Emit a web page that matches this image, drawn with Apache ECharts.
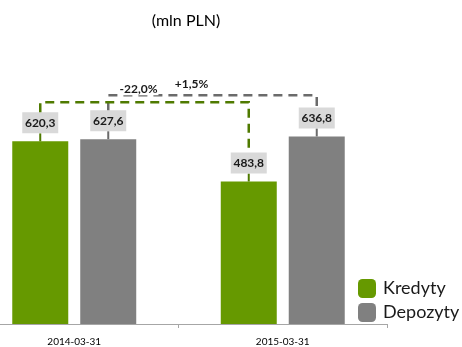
<!DOCTYPE html>
<html><head><meta charset="utf-8">
<script src="https://cdn.jsdelivr.net/npm/echarts@6/dist/echarts.min.js"></script>
<style>html,body{margin:0;padding:0;background:#fff}#c{width:462px;height:347px}</style>
</head><body><div id="c"></div>
<script>
const categories = ['2014-03-31', '2015-03-31'];
const seriesNames = ['Kredyty', 'Depozyty'];
const kredyty = [620.3, 483.8];
const depozyty = [627.6, 636.8];
const unitTitle = '(mln PLN)';

const GREEN = '#669900', GRAY = '#808080';
const GREEN_LINE = '#4f7a00', GRAY_LINE = '#6b6b6b';
const FONT = 'Lato, "Open Sans", sans-serif';

function fmt(v) { return v.toFixed(1).replace('.', ','); }
function pct(a, b) { const p = (b / a - 1) * 100; return (p >= 0 ? '+' : '') + p.toFixed(1).replace('.', ',') + '%'; }

const chart = echarts.init(document.getElementById('c'));

function renderOverlay(params, api) {
  const off = 34;
  const series = [kredyty, depozyty];
  const lineCols = [GREEN_LINE, GRAY_LINE];
  const children = [];
  const pos = [[], []];
  for (let s = 0; s < 2; s++) {
    for (let i = 0; i < categories.length; i++) {
      const c = api.coord([i, series[s][i]]);
      const x = c[0] + (s === 0 ? -off : off);
      const top = c[1];
      const boxTop = top - 29;
      pos[s][i] = { x: x, top: top, boxTop: boxTop };
      children.push({ type: 'line', shape: { x1: x, y1: top - 8, x2: x, y2: top }, style: { stroke: lineCols[s], lineWidth: 2 } });
      children.push({ type: 'rect', shape: { x: x - 18, y: boxTop, width: 36, height: 21 }, style: { fill: '#d9d9d9' } });
      children.push({ type: 'text', x: x, y: boxTop + 11, style: { text: fmt(series[s][i]), fill: '#1a1a1a', font: 'bold 12px ' + FONT, align: 'center', verticalAlign: 'middle' } });
    }
  }
  const g = pos[0], d = pos[1];
  const gy = Math.min(g[0].boxTop, g[1].boxTop) - 10;
  const dy = gy - 7;
  children.push({ type: 'polyline', shape: { points: [[d[0].x, d[0].boxTop], [d[0].x, dy], [d[1].x, dy], [d[1].x, d[1].boxTop]] }, style: { stroke: GRAY_LINE, lineWidth: 2.5, lineDash: [9, 6], fill: null } });
  children.push({ type: 'polyline', shape: { points: [[g[0].x, g[0].boxTop], [g[0].x, gy], [g[1].x, gy], [g[1].x, g[1].boxTop]] }, style: { stroke: GREEN_LINE, lineWidth: 2.5, lineDash: [9, 6], fill: null } });
  children.push({ type: 'text', x: (g[0].x + g[1].x) / 2 - 6, y: gy - 13, style: { text: pct(kredyty[0], kredyty[1]), fill: '#1a1a1a', font: 'bold 12px ' + FONT, align: 'center', verticalAlign: 'middle', backgroundColor: '#fff', padding: [0, 1] } });
  children.push({ type: 'text', x: (d[0].x + d[1].x) / 2 - 21, y: dy - 11, style: { text: pct(depozyty[0], depozyty[1]), fill: '#1a1a1a', font: 'bold 12px ' + FONT, align: 'center', verticalAlign: 'middle' } });
  return { type: 'group', children: children };
}

chart.setOption({
  animation: false,
  backgroundColor: '#fff',
  title: { text: unitTitle, left: 181, top: 8, textAlign: 'center', textStyle: { fontFamily: FONT, fontSize: 16, fontWeight: 'normal', color: '#000' } },
  legend: {
    orient: 'vertical', left: 353, top: 274, itemWidth: 18, itemHeight: 19, itemGap: 5,
    icon: 'roundRect', data: seriesNames,
    textStyle: { fontFamily: FONT, fontSize: 18, color: '#1a1a1a', padding: [0, 0, 0, 2] }
  },
  grid: { left: -30, width: 417, top: 0, bottom: 23, containLabel: false, outerBoundsMode: 'none' },
  xAxis: {
    type: 'category', data: categories,
    axisLine: { lineStyle: { color: '#a6a6a6', width: 1 } },
    axisTick: { show: true, length: 4, lineStyle: { color: '#a6a6a6' } },
    axisLabel: { fontFamily: FONT, fontSize: 10, color: '#000', margin: 13 }
  },
  yAxis: { type: 'value', min: 0, max: 1100, show: false, splitLine: { show: false } },
  series: [
    { name: seriesNames[0], type: 'bar', data: kredyty, barWidth: 56, barGap: '21.4%', itemStyle: { color: GREEN } },
    { name: seriesNames[1], type: 'bar', data: depozyty, barWidth: 56, itemStyle: { color: GRAY } },
    { type: 'custom', data: [0], renderItem: renderOverlay, z: 10, silent: true, clip: false }
  ]
});
</script></body></html>
